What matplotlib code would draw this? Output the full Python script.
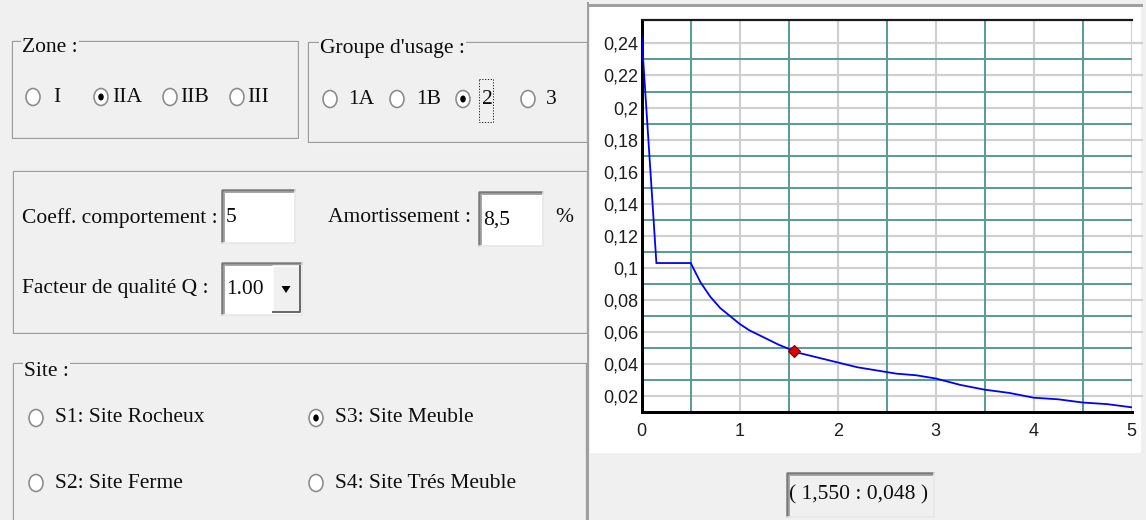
import matplotlib
matplotlib.use("Agg")
import matplotlib.pyplot as plt
from matplotlib.patches import Rectangle, Ellipse, Polygon

# ---------------- data ----------------
periods = [0.0, 0.15, 0.5, 0.6, 0.7, 0.8, 0.9, 1.0, 1.1, 1.2, 1.3, 1.4, 1.5,
           1.6, 1.8, 2.0, 2.2, 2.4, 2.6, 2.8, 3.0, 3.25, 3.5, 3.75, 4.0,
           4.25, 4.5, 4.75, 5.0]
spectrum = [0.244, 0.103, 0.103, 0.091, 0.082, 0.075, 0.070, 0.065, 0.061,
            0.058, 0.055, 0.052, 0.0495, 0.047, 0.044, 0.041, 0.038, 0.036,
            0.034, 0.033, 0.031, 0.027, 0.024, 0.022, 0.019, 0.018, 0.016,
            0.015, 0.013]
point_T = 1.55
point_Sa = 0.048

x_ticks = [0, 1, 2, 3, 4, 5]
x_tick_labels = ["0", "1", "2", "3", "4", "5"]
y_ticks = [0.02, 0.04, 0.06, 0.08, 0.10, 0.12, 0.14, 0.16, 0.18, 0.20, 0.22, 0.24]
y_tick_labels = ["0,02", "0,04", "0,06", "0,08", "0,1", "0,12", "0,14",
                 "0,16", "0,18", "0,2", "0,22", "0,24"]
x_grid_minor = [0.5, 1.5, 2.5, 3.5, 4.5]
y_grid_minor = [0.03, 0.05, 0.07, 0.09, 0.11, 0.13, 0.15, 0.17, 0.19, 0.21, 0.23]

zone_labels = ["I", "IIA", "IIB", "III"]
zone_selected = 1
groupe_labels = ["1A", "1B", "2", "3"]
groupe_selected = 2
site_labels = ["S1: Site Rocheux", "S3: Site Meuble", "S2: Site Ferme", "S4: Site Trés Meuble"]
site_selected = 1
coeff_value = "5"
amort_value = "8,5"
q_value = "1.00"
coord_text = "( 1,550 : 0,048 )"

# ---------------- figure ----------------
W, H, DPI = 1146, 520, 100
BG = "#f0f0f0"
fig = plt.figure(figsize=(W / DPI, H / DPI), dpi=DPI, facecolor=BG)


def lw(px):
    return px * 72.0 / DPI


SERIF = ["Liberation Serif", "DejaVu Serif"]
SANS = ["Liberation Sans", "DejaVu Sans"]
FS = 15.5
TXT = "#0d0d0d"

gui = fig.add_axes([0, 0, 1, 1], zorder=0)
gui.set_xlim(0, W)
gui.set_ylim(H, 0)
gui.axis("off")
gui.set_facecolor(BG)


def group_box(x0, y0, x1, y1, title, tx, ty_off=6):
    gui.add_patch(Rectangle((x0 + 1, y0 + 1), x1 - x0, y1 - y0, fill=False,
                            ec="white", lw=lw(1.2)))
    gui.add_patch(Rectangle((x0, y0), x1 - x0, y1 - y0, fill=False,
                            ec="#9c9c9c", lw=lw(1.3)))
    if title:
        gui.text(tx, y0 + ty_off, title, family=SERIF, fontsize=FS, color=TXT,
                 va="center", ha="left",
                 bbox=dict(boxstyle="square,pad=0.05", fc=BG, ec="none"))


def radio(cx, cy, label, selected, lx):
    gui.add_patch(Ellipse((cx, cy), 14, 17, fc="white", ec="#8a8a8a",
                          lw=lw(1.6)))
    if selected:
        gui.add_patch(Ellipse((cx, cy), 5.5, 7, fc="black", ec="none"))
    gui.text(lx, cy, label, family=SERIF, fontsize=FS, color=TXT,
             va="center", ha="left")


def sunken(x0, y0, x1, y1, face="white"):
    gui.add_patch(Rectangle((x0, y0), x1 - x0, y1 - y0, fc=face, ec="none"))
    gui.plot([x0, x0, x1], [y1, y0, y0], color="#7a7a7a", lw=lw(2.5),
             solid_capstyle="butt")
    gui.plot([x0 + 2, x0 + 2, x1 - 2], [y1 - 2, y0 + 2, y0 + 2],
             color="#a8a8a8", lw=lw(1))
    gui.plot([x0, x1, x1], [y1, y1, y0], color="#e6e6e6", lw=lw(1.5))


# Zone box
group_box(12, 41, 298, 138, "Zone :", 22)
zone_cx = [33, 101, 170, 237]
zone_lx = [53, 112, 180, 247]
for i, lab in enumerate(zone_labels):
    radio(zone_cx[i], 97, lab, i == zone_selected, zone_lx[i])

# Groupe box
group_box(308, 42, 587, 142, "Groupe d'usage :", 320)
grp_cx = [330, 397, 463, 528]
grp_lx = [348, 416, 482, 546]
for i, lab in enumerate(groupe_labels):
    radio(grp_cx[i], 99, lab, i == groupe_selected, grp_lx[i])
gui.add_patch(Rectangle((479, 79), 14, 43, fill=False, ec="#222222",
                        lw=lw(1), ls=(0, (1.2, 1.6))))

# Coefficients box
group_box(13, 171, 587, 333, None, 0)
gui.text(22, 218, "Coeff. comportement :", family=SERIF, fontsize=FS,
         color=TXT, va="center", ha="left")
sunken(222, 190, 295, 243)
gui.text(226, 218, coeff_value, family=SERIF, fontsize=FS, color=TXT,
         va="center", ha="left")
gui.text(328, 218, "Amortissement :", family=SERIF, fontsize=FS, color=TXT,
         va="center", ha="left")
sunken(479, 192, 543, 246)
gui.text(483, 220, amort_value, family=SERIF, fontsize=FS, color=TXT,
         va="center", ha="left")
gui.text(564, 218, "%", family=SERIF, fontsize=FS, color=TXT,
         va="center", ha="center")
gui.text(22, 289, "Facteur de qualité Q :", family=SERIF, fontsize=FS,
         color=TXT, va="center", ha="left")
sunken(222, 263, 302, 315)
gui.add_patch(Rectangle((273, 266), 27, 46, fc=BG, ec="none"))
gui.plot([273, 273, 300], [312, 266, 266], color="white", lw=lw(1.5))
gui.plot([273, 300, 300], [312, 312, 266], color="#6a6a6a", lw=lw(2))
gui.add_patch(Polygon([[281.5, 286], [290.5, 286], [286, 293]], closed=True,
                      fc="black", ec="none"))
gui.text(226, 289, q_value, family=SERIF, fontsize=FS, color=TXT,
         va="center", ha="left")

# Site box
group_box(13, 363, 586, 540, "Site :", 24, ty_off=9)
site_pos = [(36, 418, 55), (316, 418, 335), (36, 483, 55), (316, 483, 335)]
for i, lab in enumerate(site_labels):
    cx, cy, lx = site_pos[i]
    radio(cx, cy, lab, i == site_selected, lx)

# Right panel (chart area)
gui.add_patch(Rectangle((590, 7), 551, 446, fc="white", ec="none"))
gui.plot([587.5, 587.5], [3, H], color="#a0a0a0", lw=lw(2))
gui.plot([587.5, 1141], [4.5, 4.5], color="#a0a0a0", lw=lw(3))

# coordinate box
sunken(787, 473, 934, 517, face=BG)
gui.text(859, 495, coord_text, family=SERIF, fontsize=FS, color=TXT,
         va="center", ha="center")

# ---------------- chart ----------------
ax_l, ax_r, ax_b, ax_t = 641.7, 1131.7, 412.3, 20.0
ax = fig.add_axes([ax_l / W, (H - ax_b) / H, (ax_r - ax_l) / W, (ax_b - ax_t) / H],
                  zorder=2)
ax.set_facecolor("none")
ax.set_xlim(0, 5)
ax.set_ylim(0.0099, 0.2546)

TEAL = "#5a9c96"
GRAY = "#cfcfcf"
for yv in y_ticks:
    ax.axhline(yv, xmin=0, xmax=1.021, color=GRAY, lw=lw(2.2), zorder=1,
               clip_on=False)
for xv in x_ticks[1:]:
    ax.axvline(xv, color=GRAY, lw=lw(2.2), zorder=1)
for yv in y_grid_minor:
    ax.axhline(yv, color=TEAL, lw=lw(2), zorder=1.5)
for xv in x_grid_minor:
    ax.axvline(xv, color=TEAL, lw=lw(2), zorder=1.5)

ax.plot(periods, spectrum, color="#0000ff", lw=lw(1.8), zorder=3,
        solid_joinstyle="miter")
ax.plot([point_T], [point_Sa], marker="D", ms=6.5, mfc="#e00000",
        mec="#7a0000", mew=0.8, ls="none", zorder=4)

ax.spines["right"].set_visible(False)
ax.spines["left"].set_linewidth(lw(3))
ax.spines["bottom"].set_linewidth(lw(3))
ax.spines["top"].set_linewidth(lw(2.2))
ax.spines["top"].set_color("#1a1a1a")
for s in ["left", "bottom"]:
    ax.spines[s].set_color("black")

ax.set_xticks(x_ticks)
ax.set_xticklabels(x_tick_labels)
ax.set_yticks(y_ticks)
ax.set_yticklabels(y_tick_labels)
ax.tick_params(axis="both", length=0, labelsize=13, labelcolor="#1e1e1e")
ax.tick_params(axis="x", pad=lw(11))
ax.tick_params(axis="y", pad=lw(3))
for t in ax.get_xticklabels() + ax.get_yticklabels():
    t.set_family(SANS)

fig.savefig("out.png", dpi=DPI, facecolor=BG)
